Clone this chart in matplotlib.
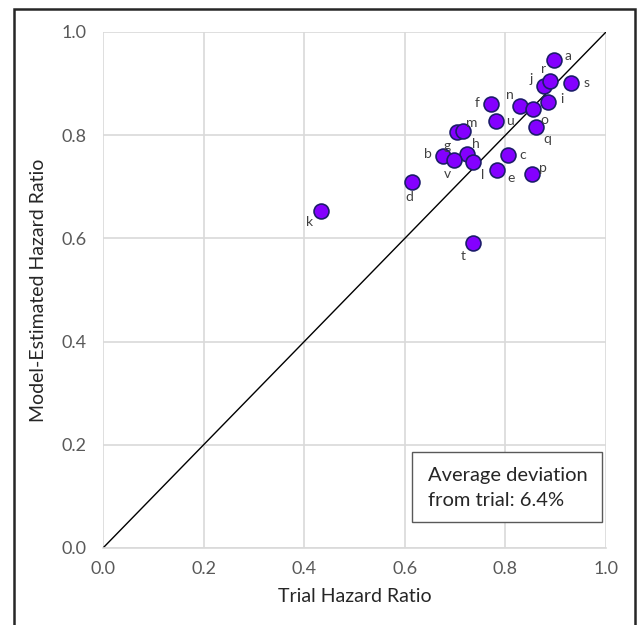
import matplotlib
matplotlib.use("Agg")
import matplotlib.pyplot as plt
from matplotlib.patches import Rectangle

plt.rcParams['font.family'] = ['Lato', 'DejaVu Sans']

labels = ['a', 'b', 'c', 'd', 'e', 'f', 'g', 'h', 'i', 'j', 'k',
          'l', 'm', 'n', 'o', 'p', 'q', 'r', 's', 't', 'u', 'v']
trial_hr = [0.897, 0.676, 0.806, 0.614, 0.783, 0.771, 0.704, 0.724, 0.885, 0.877, 0.433,
            0.736, 0.716, 0.829, 0.855, 0.853, 0.861, 0.889, 0.930, 0.736, 0.781, 0.698]
model_hr = [0.946, 0.760, 0.762, 0.709, 0.733, 0.860, 0.806, 0.764, 0.864, 0.895, 0.653,
            0.748, 0.808, 0.857, 0.851, 0.725, 0.816, 0.905, 0.901, 0.591, 0.827, 0.752]
# label offsets (points)
offsets = {'a': (10, 3), 'b': (-11, 1), 'c': (10, 0), 'd': (-2, -11), 'e': (10, -6),
           'f': (-10, 1), 'g': (-7, -10), 'h': (6, 7), 'i': (10, 2), 'j': (-9, 5),
           'k': (-8, -8), 'l': (7, -9), 'm': (6, 6), 'n': (-7, 8), 'o': (8, -8),
           'p': (8, 4), 'q': (8, -9), 'r': (-5, 9), 's': (11, 0), 't': (-7, -9),
           'u': (10, 0), 'v': (-5, -10)}

ticks = [0.0, 0.2, 0.4, 0.6, 0.8, 1.0]
tick_labels = ['0.0', '0.2', '0.4', '0.6', '0.8', '1.0']

fig = plt.figure(figsize=(6.38, 6.25), dpi=100)
ax = fig.add_axes([103/638, 77/625, 503/638, 516/625])

ax.set_xlim(0, 1)
ax.set_ylim(0, 1)
ax.set_xticks(ticks)
ax.set_yticks(ticks)
ax.set_xticklabels(tick_labels)
ax.set_yticklabels(tick_labels)
ax.grid(True, color='#d9d9d9', linewidth=1.2)
ax.set_axisbelow(True)
for s in ax.spines.values():
    s.set_visible(False)
ax.spines['bottom'].set_visible(True)
ax.spines['bottom'].set_color('#d9d9d9')
ax.spines['bottom'].set_linewidth(1.2)
ax.tick_params(length=0, labelsize=13, colors='#595959')
ax.tick_params(axis='y', pad=12)
ax.tick_params(axis='x', pad=9)

ax.plot([0, 1], [0, 1], color='black', linewidth=1.0, zorder=2)
ax.scatter(trial_hr, model_hr, s=115, facecolor='#8400FF', edgecolor='#1c1c6b',
           linewidth=1.2, zorder=3, clip_on=False)
for lab, x, y in zip(labels, trial_hr, model_hr):
    dx, dy = offsets[lab]
    ax.annotate(lab, (x, y), xytext=(dx, dy), textcoords='offset points',
                ha='center', va='center', fontsize=10, color='#404040', zorder=4)

ax.set_xlabel('Trial Hazard Ratio', fontsize=14, color='#262626', labelpad=8)
ax.set_ylabel('Model-Estimated Hazard Ratio', fontsize=14, color='#262626', labelpad=10)

ax.add_patch(Rectangle((0.614, 0.050), 0.378, 0.136, facecolor='white',
                       edgecolor='#595959', linewidth=1.0, zorder=5))
ax.text(0.646, 0.141, 'Average deviation', fontsize=14.5, color='#262626',
        ha='left', va='center', zorder=6)
ax.text(0.646, 0.093, 'from trial: 6.4%', fontsize=14.5, color='#262626',
        ha='left', va='center', zorder=6)

fig.patches.append(Rectangle((14/638, -0.01), 621/638, 1 - 9/625 + 0.01,
                             transform=fig.transFigure, fill=False,
                             edgecolor='#262626', linewidth=1.8))

fig.savefig('out.png', dpi=100)
